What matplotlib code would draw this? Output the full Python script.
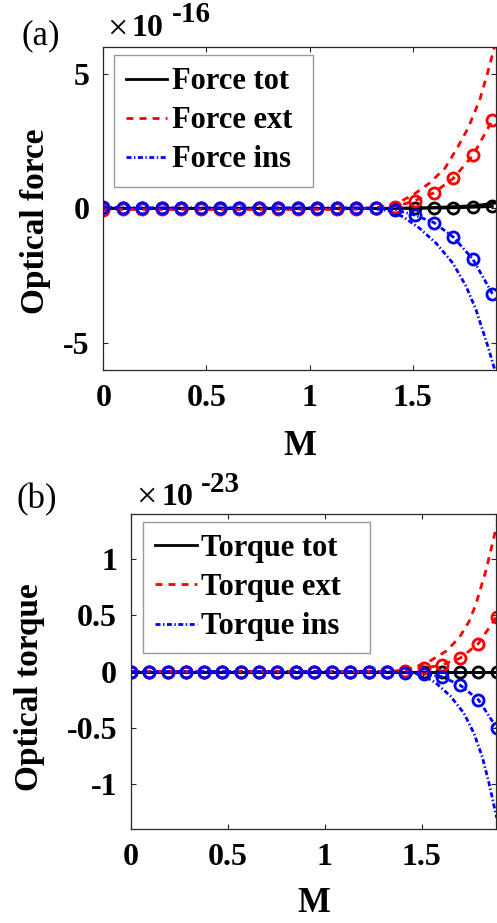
import numpy as np
import matplotlib
matplotlib.use('Agg')
import matplotlib.pyplot as plt

plt.rcParams['font.family'] = 'Liberation Serif'
plt.rcParams['font.weight'] = 'bold'
plt.rcParams['axes.labelweight'] = 'bold'
plt.rcParams['axes.unicode_minus'] = False

# sampled M values (markers)
m_mark = np.array([0.0, 0.0943, 0.1886, 0.2829, 0.3772, 0.4715, 0.5658, 0.6601, 0.7544, 0.8487,
                   0.9430, 1.0373, 1.1316, 1.2259, 1.3202, 1.4145, 1.5088, 1.6031, 1.6974, 1.7917, 1.8860])

# (a) force, units of 1e-16
f_tot_mark = np.array([0, 0, 0, 0, 0, 0, 0, 0, 0, 0, 0, 0, 0, 0, 0, 0.0, 0.0, 0.01, 0.02, 0.04, 0.07])
f_ext_mark = np.array([-0.05, -0.04, -0.04, -0.04, -0.04, -0.04, -0.04, -0.04, -0.04, -0.04, -0.04,
                       -0.04, -0.04, -0.03, 0.03, 0.06, 0.28, 0.58, 1.12, 1.97, 3.27])
f_ins_mark = np.array([0.05, 0.03, 0.02, 0.02, 0.02, 0.02, 0.02, 0.02, 0.02, 0.02, 0.02,
                       0.02, 0.02, 0.02, 0.0, -0.05, -0.25, -0.53, -1.07, -1.89, -3.17])

m_tot_a = [0, 1.40, 1.60, 1.80, 1.906]
f_tot = [0, 0, 0.03, 0.10, 0.20]
m_ext_a = [0, 1.30, 1.35, 1.42, 1.50, 1.58, 1.655, 1.714, 1.767, 1.824, 1.864, 1.896]
f_ext = [0, 0, 0.05, 0.18, 0.49, 0.93, 1.48, 2.22, 2.96, 4.01, 5.06, 5.99]
m_ins_a = [0, 1.30, 1.38, 1.453, 1.533, 1.614, 1.695, 1.759, 1.807, 1.864, 1.896]
f_ins = [0, 0, -0.08, -0.31, -0.74, -1.30, -2.04, -2.90, -3.77, -5.12, -5.95]

# (b) torque, units of 1e-23
t_tot_mark = np.zeros(21)
t_ext_mark = np.array([0, 0, 0, 0, 0, 0, 0, 0, 0, 0, 0, 0, 0, 0, 0, 0.01, 0.03, 0.06, 0.12, 0.25, 0.49])
t_ins_mark = np.array([0, 0, 0, 0, 0, 0, 0, 0, 0, 0, 0, 0, 0, 0, 0, -0.01, -0.02, -0.045, -0.12, -0.25, -0.50])

m_tot_b = [0, 1.886]
t_tot = [0, 0]
m_ext_b = [0, 1.35, 1.45, 1.537, 1.623, 1.692, 1.743, 1.777, 1.829, 1.846, 1.886]
t_ext = [0, 0, 0.03, 0.09, 0.18, 0.30, 0.445, 0.59, 0.89, 1.01, 1.30]
m_ins_b = [0, 1.40, 1.503, 1.572, 1.649, 1.717, 1.769, 1.812, 1.846, 1.886]
t_ins = [0, 0, -0.03, -0.10, -0.22, -0.37, -0.55, -0.76, -0.99, -1.30]

W, H = 497, 923
fig = plt.figure(figsize=(W / 100, H / 100), dpi=100)

LW = 2.0
dash = (2.5, 2.2)
dashdot = (1.8, 0.9, 0.5, 0.9)
mk = dict(marker='o', ms=8, mew=2, mfc='none')

def px_axes(l, t, r, b):
    return fig.add_axes([l / W, 1 - b / H, (r - l) / W, (b - t) / H])

def style(ax):
    ax.tick_params(direction='in', top=True, right=True, length=3.5, width=0.8,
                   color='#262626', labelsize=23)
    ax.tick_params(axis='x', pad=10)
    ax.tick_params(axis='y', pad=10)
    for s in ax.spines.values():
        s.set_linewidth(0.9)
        s.set_color('#262626')
    ax.set_xticks([0, 0.5, 1, 1.5])
    ax.set_xticklabels(['0', '0.5', '1', '1.5'])

def draw(ax, mt, yt, me, ye, mi, yi, ytm, yem, yim, names):
    l1, = ax.plot(mt, yt, color='k', lw=LW, label=names[0])
    l2, = ax.plot(me, ye, color='r', lw=LW, dashes=dash, label=names[1])
    l3, = ax.plot(mi, yi, color='b', lw=LW, dashes=dashdot, label=names[2])
    ax.plot(m_mark, ytm, color='k', lw=LW, mec='k', **mk)
    ax.plot(m_mark, yem, color='r', lw=LW, dashes=dash, mec='r', **mk)
    ax.plot(m_mark, yim, color='b', lw=LW, dashes=dashdot, mec='b', **mk)
    return [l1, l2, l3]

def legend(ax, h, x0, y0, w):
    leg = ax.legend(handles=h, loc='upper left', bbox_to_anchor=(x0, y0 - 0.5, w, 0.5),
                    mode='expand', fontsize=22, fancybox=False, framealpha=1,
                    edgecolor='#9a9a9a', handlelength=1.35, handletextpad=0.15,
                    borderpad=0.4, labelspacing=0.33, borderaxespad=0)
    leg.get_frame().set_linewidth(1.0)

# panel (a)
ax1 = px_axes(103.3, 46.7, 496.5, 370)
h = draw(ax1, m_tot_a, f_tot, m_ext_a, f_ext, m_ins_a, f_ins,
         f_tot_mark, f_ext_mark, f_ins_mark, ['Force tot', 'Force ext', 'Force ins'])
ax1.set_xlim(0, 1.906)
ax1.set_ylim(-6, 6)
ax1.set_yticks([-5, 0, 5])
ax1.set_yticklabels(['-5', '0', '5'])
style(ax1)
ax1.set_xlabel('M', fontsize=25, va='center')
ax1.xaxis.set_label_coords(0.5, -0.237)
ax1.set_ylabel('Optical force', fontsize=24, va='center')
ax1.yaxis.set_label_coords(-0.172, 0.46)
legend(ax1, h, 0.027, 0.974, 0.506)

# panel (b)
ax2 = px_axes(131, 514.3, 496.5, 829)
h = draw(ax2, m_tot_b, t_tot, m_ext_b, t_ext, m_ins_b, t_ins,
         t_tot_mark, t_ext_mark, t_ins_mark, ['Torque tot', 'Torque ext', 'Torque ins'])
ax2.set_xlim(0, 1.885)
ax2.set_ylim(-1.4, 1.4)
ax2.set_yticks([-1, -0.5, 0, 0.5, 1])
ax2.set_yticklabels(['-1', '-0.5', '0', '0.5', '1'])
style(ax2)
ax2.set_xlabel('M', fontsize=25, va='center')
ax2.xaxis.set_label_coords(0.5, -0.238)
ax2.set_ylabel('Optical torque', fontsize=24, va='center')
ax2.yaxis.set_label_coords(-0.279, 0.45)
legend(ax2, h, 0.033, 0.976, 0.62)

def ptext(x, y, s, **kw):
    fig.text(x / W, 1 - y / H, s, **kw)

# panel letters and exponent labels
ptext(41, 36, '(a)', fontsize=25, fontweight='normal', ha='center', va='center')
ptext(36.7, 500, '(b)', fontsize=25, fontweight='normal', ha='center', va='center')
ptext(107, 30.5, '\u00d7', fontsize=26, fontweight='normal', ha='left', va='center')
ptext(132, 36, '10', fontsize=23, ha='left', va='baseline')
ptext(172, 21.7, '-16', fontsize=21, ha='left', va='baseline')
ptext(136, 498, '\u00d7', fontsize=26, fontweight='normal', ha='left', va='center')
ptext(162, 505, '10', fontsize=23, ha='left', va='baseline')
ptext(201, 491.7, '-23', fontsize=21, ha='left', va='baseline')

fig.savefig('out.png', dpi=100)
